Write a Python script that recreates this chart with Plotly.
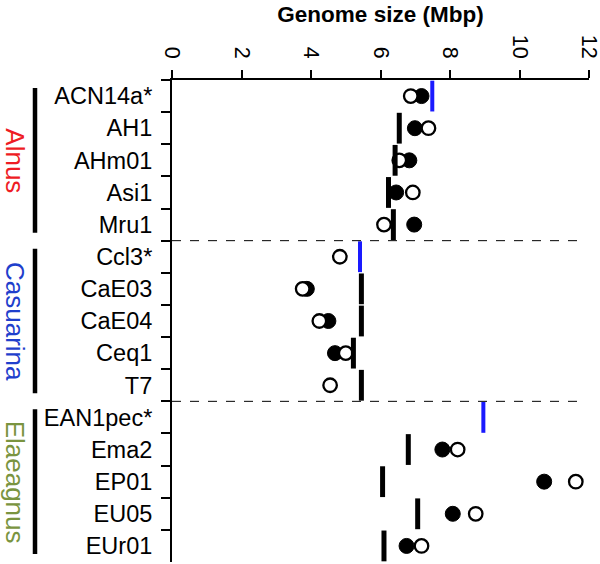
import plotly.graph_objects as go

# ---- data ----
strains = ["ACN14a*", "AH1", "AHm01", "Asi1", "Mru1",
           "Ccl3*", "CaE03", "CaE04", "Ceq1", "T7",
           "EAN1pec*", "Ema2", "EP01", "EU05", "EUr01"]
ref_size = [7.49, 6.54, 6.42, 6.23, 6.37,
            5.41, 5.45, 5.45, 5.22, 5.45,
            8.96, 6.80, 6.06, 7.07, 6.10]
est_filled = [7.18, 6.99, 6.83, 6.45, 6.97,
              None, 3.88, 4.50, 4.69, None,
              None, 7.78, 10.71, 8.08, 6.75]
est_open = [6.87, 7.38, 6.54, 6.93, 6.10,
            4.83, 3.76, 4.24, 5.00, 4.55,
            None, 8.22, 11.62, 8.74, 7.18]
sequenced = [s.endswith("*") for s in strains]
groups = ["Alnus", "Casuarina", "Elaeagnus"]
group_sizes = [5, 5, 5]
group_colors = ["#ee1c24", "#1f3fcc", "#7a9440"]
x_ticks = [0, 2, 4, 6, 8, 10, 12]

FONT = "Liberation Sans, Arial, sans-serif"
n = len(strains)

fig = go.Figure()
fig.add_trace(go.Scatter(
    x=est_filled, y=strains, mode="markers", cliponaxis=False,
    marker=dict(symbol="circle", size=15, color="black",
                line=dict(color="black", width=1)),
    showlegend=False, hoverinfo="x+y"))
fig.add_trace(go.Scatter(
    x=est_open, y=strains, mode="markers", cliponaxis=False,
    marker=dict(symbol="circle", size=13.5, color="white",
                line=dict(color="black", width=2.3)),
    showlegend=False, hoverinfo="x+y"))
fig.add_trace(go.Scatter(
    x=ref_size, y=strains, mode="markers", cliponaxis=False,
    marker=dict(symbol="line-ns", size=22,
                line=dict(color=["#1a1aff" if s else "black" for s in sequenced],
                          width=[4 if s else 5 for s in sequenced])),
    showlegend=False, hoverinfo="x+y"))

L, R, T, B = 172, 11, 80, 2
PW, PH = 600 - L - R, 564 - T - B

shapes = []
annotations = []
bar_x = (35 - L) / PW
lab_x = (15 - L) / PW
inset = 8 / PH
start = 0
for gi, (g, size, col) in enumerate(zip(groups, group_sizes, group_colors)):
    y_top = 1 - start / n
    y_bot = 1 - (start + size) / n
    shapes.append(dict(type="line", xref="paper", yref="paper",
                       x0=bar_x, x1=bar_x, y0=y_top - inset, y1=y_bot + inset,
                       line=dict(color="black", width=4.5)))
    annotations.append(dict(text=g, xref="paper", yref="paper",
                            x=lab_x, y=(y_top + y_bot) / 2, textangle=90,
                            showarrow=False, xanchor="center", yanchor="middle",
                            font=dict(family=FONT, size=26, color=col)))
    if start + size < n:
        shapes.append(dict(type="line", xref="x", yref="paper",
                           x0=0, x1=11.88, y0=y_bot, y1=y_bot,
                           line=dict(color="black", width=1, dash="dash")))
    start += size

fig.update_layout(
    width=600, height=564,
    margin=dict(l=L, r=R, t=T, b=B, autoexpand=False),
    paper_bgcolor="white", plot_bgcolor="white",
    font=dict(family=FONT, color="black"),
    title=dict(text="<b>Genome size (Mbp)</b>", x=0.5, xref="paper",
               y=1 - 14 / 564, yref="container", yanchor="middle",
               xanchor="center", font=dict(family=FONT, size=22.5, color="black")),
    xaxis=dict(side="top", range=[0, 12], tickvals=x_ticks,
               ticktext=[str(v) for v in x_ticks], automargin=False,
               ticklabeloverflow="allow",
               ticks="outside", ticklen=8, tickwidth=1.5, tickcolor="black",
               showline=True, linewidth=1.5, linecolor="black",
               tickangle=90, tickfont=dict(family=FONT, size=21.5, color="black"),
               showgrid=False, zeroline=False, ticklabelstandoff=4),
    yaxis=dict(type="category", categoryarray=strains, categoryorder="array",
               range=[n - 0.5, -0.5], tickson="boundaries", automargin=False,
               ticks="outside", ticklen=9, tickwidth=1.5, tickcolor="black",
               showline=True, linewidth=2, linecolor="black",
               tickfont=dict(family=FONT, size=23.5, color="black"),
               showgrid=False, zeroline=False, ticklabelstandoff=13),
    shapes=shapes, annotations=annotations,
)

fig.write_html("out.html", config={"displayModeBar": False},
               post_script="document.body.style.margin='0px';document.body.style.overflow='hidden';")
